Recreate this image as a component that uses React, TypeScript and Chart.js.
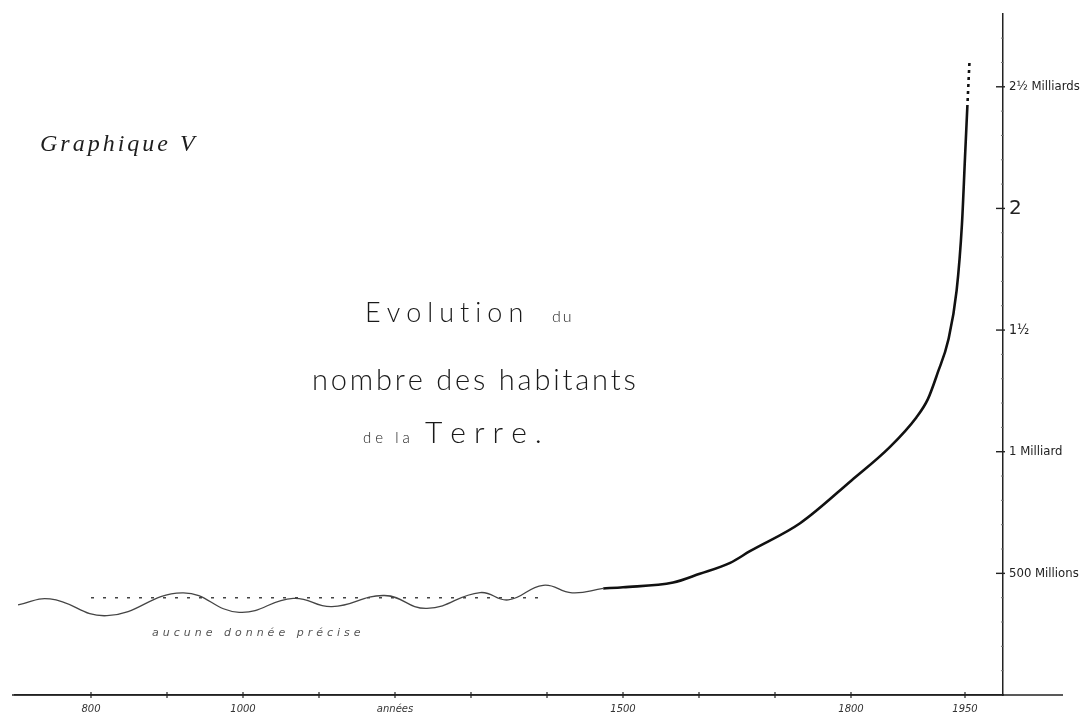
import { useEffect, useRef } from 'react';
import { Chart, registerables } from 'chart.js';

Chart.register(...registerables);

// ---- data (years, billions of inhabitants) ----
const waveYears = [704, 746, 821, 920, 995, 1066, 1117, 1186, 1242, 1312, 1349, 1395, 1433, 1474];
const waveValues = [0.37, 0.395, 0.326, 0.42, 0.34, 0.397, 0.363, 0.409, 0.356, 0.421, 0.391, 0.451, 0.42, 0.438];

const trendYears = [800, 1400];
const trendValues = [0.4, 0.4];

const growthYears = [1474, 1500, 1566, 1601, 1641, 1667, 1733, 1801, 1851, 1886, 1901, 1914, 1928, 1939, 1946, 1950, 1953];
const growthValues = [0.438, 0.443, 0.462, 0.498, 0.543, 0.591, 0.706, 0.883, 1.019, 1.141, 1.215, 1.324, 1.459, 1.663, 1.936, 2.209, 2.413];

const projectionYears = [1953, 1956];
const projectionValues = [2.413, 2.61];

const xTickValues = [800, 900, 1000, 1100, 1200, 1300, 1400, 1500, 1600, 1700, 1800, 1950];
const xTickLabelValues = [800, 1000, 1200, 1500, 1800, 1950];
const xTickLabels = ['800', '1000', 'années', '1500', '1800', '1950'];

const yTickValues = [0.5, 1, 1.5, 2, 2.5];
const yTickLabels = ['500 Millions', '1 Milliard', '1½', '2', '2½ Milliards'];
const yMinorCount = 27;

const chartTitle = ['Evolution', 'du', 'nombre des habitants', 'de la', 'Terre.'];
const graphLabel = 'Graphique V';
const noDataLabel = 'aucune donnée précise';

const toPoints = (xs: number[], ys: number[]) => xs.map((x, i) => ({ x, y: ys[i] }));

function drawSpaced(ctx: CanvasRenderingContext2D, text: string, x: number, y: number, spacing: number) {
  let cx = x;
  for (const ch of text) {
    ctx.fillText(ch, cx, y);
    cx += ctx.measureText(ch).width + spacing;
  }
}

const decorations = {
  id: 'decorations',
  afterDraw(chart: any) {
    const { ctx, chartArea, scales } = chart;
    const xs = scales.x;
    const ys = scales.y;
    ctx.save();
    ctx.strokeStyle = '#222';
    ctx.lineWidth = 1.5;
    // x axis continues past the vertical axis
    ctx.beginPath();
    ctx.moveTo(chartArea.left - 3, chartArea.bottom);
    ctx.lineTo(chartArea.right + 60, chartArea.bottom);
    ctx.stroke();
    // x tick marks crossing the axis
    ctx.lineWidth = 1.2;
    xs.ticks.forEach((t: any) => {
      const px = xs.getPixelForValue(t.value);
      ctx.beginPath();
      ctx.moveTo(px, chartArea.bottom - 3);
      ctx.lineTo(px, chartArea.bottom + 3);
      ctx.stroke();
    });
    // y tick marks
    ys.ticks.forEach((t: any) => {
      const py = ys.getPixelForValue(t.value);
      const major = yTickValues.some((v) => Math.abs(v - t.value) < 1e-6);
      ctx.lineWidth = major ? 1.4 : 1;
      ctx.strokeStyle = major ? '#222' : '#777';
      ctx.beginPath();
      ctx.moveTo(chartArea.right - (major ? 7 : 2), py);
      ctx.lineTo(chartArea.right + (major ? 2 : 1), py);
      ctx.stroke();
    });

    // texts
    ctx.fillStyle = '#1e1e1e';
    ctx.textBaseline = 'alphabetic';
    ctx.textAlign = 'left';
    ctx.font = 'italic 24px "Liberation Serif", "DejaVu Serif", serif';
    drawSpaced(ctx, graphLabel, 40, 151, 3);

    ctx.fillStyle = '#1a1a1a';
    ctx.font = '300 27px Lato, "Open Sans", sans-serif';
    drawSpaced(ctx, chartTitle[0], 365, 322, 6);
    ctx.font = '300 16px Lato, "Open Sans", sans-serif';
    drawSpaced(ctx, chartTitle[1], 552, 322, 2);
    ctx.font = '300 29px Lato, "Open Sans", sans-serif';
    drawSpaced(ctx, chartTitle[2], 312, 390, 2.8);
    ctx.font = '300 15px Lato, "Open Sans", sans-serif';
    drawSpaced(ctx, chartTitle[3], 363, 443, 4);
    ctx.font = '300 30px Lato, "Open Sans", sans-serif';
    drawSpaced(ctx, chartTitle[4], 425, 443, 8);

    ctx.fillStyle = '#555';
    ctx.font = 'italic 11px "DejaVu Sans", sans-serif';
    drawSpaced(ctx, noDataLabel, 152, 636, 4);
    ctx.restore();
  },
};

export default function App() {
  const canvasRef = useRef<HTMLCanvasElement | null>(null);

  useEffect(() => {
    if (!canvasRef.current) return;
    const chart = new Chart(canvasRef.current, {
      type: 'line',
      data: {
        datasets: [
          {
            data: toPoints(waveYears, waveValues),
            borderColor: '#454545',
            borderWidth: 1.3,
            tension: 0.45,
            pointRadius: 0,
          },
          {
            data: toPoints(trendYears, trendValues),
            borderColor: '#444',
            borderWidth: 1.6,
            borderDash: [3, 9],
            pointRadius: 0,
          },
          {
            data: toPoints(growthYears, growthValues),
            borderColor: '#111',
            borderWidth: 2.6,
            cubicInterpolationMode: 'monotone',
            pointRadius: 0,
          },
          {
            data: toPoints(projectionYears, projectionValues),
            borderColor: '#111',
            borderWidth: 2.6,
            borderDash: [3, 4],
            pointRadius: 0,
          },
        ],
      },
      options: {
        animation: false,
        responsive: false,
        layout: { padding: { left: 15, top: 8, right: 0, bottom: 0 } },
        plugins: { legend: { display: false }, tooltip: { enabled: false } },
        scales: {
          x: {
            type: 'linear',
            min: 700,
            max: 2000,
            afterBuildTicks: (s: any) => {
              s.ticks = xTickValues.map((v) => ({ value: v }));
            },
            afterFit: (s: any) => {
              s.height = 22;
            },
            grid: { drawOnChartArea: false, drawTicks: false },
            border: { display: true, color: '#222', width: 1.5 },
            ticks: {
              autoSkip: false,
              maxRotation: 0,
              padding: 8,
              color: '#333',
              font: { family: '"DejaVu Sans", sans-serif', size: 10, style: 'italic' },
              callback: (v: any) => {
                const i = xTickLabelValues.indexOf(Number(v));
                return i >= 0 ? xTickLabels[i] : '';
              },
            },
          },
          y: {
            type: 'linear',
            position: 'right',
            min: 0,
            max: 2.8,
            afterBuildTicks: (s: any) => {
              const arr = [];
              for (let i = 1; i <= yMinorCount; i++) arr.push({ value: i / 10 });
              s.ticks = arr;
            },
            afterFit: (s: any) => {
              s.width = 85;
            },
            grid: { drawOnChartArea: false, drawTicks: false },
            border: { display: true, color: '#222', width: 1.5 },
            ticks: {
              autoSkip: false,
              padding: 6,
              color: '#222',
              font: (c: any) => {
                const v = c.tick ? c.tick.value : 0;
                if (Math.abs(v - 2) < 1e-6) return { family: '"DejaVu Sans", sans-serif', size: 20 };
                if (Math.abs(v - 1.5) < 1e-6) return { family: '"DejaVu Sans Condensed", "DejaVu Sans", sans-serif', size: 14 };
                return { family: '"DejaVu Sans Condensed", "DejaVu Sans", sans-serif', size: 13 };
              },
              callback: (v: any) => {
                const i = yTickValues.findIndex((t) => Math.abs(t - Number(v)) < 1e-6);
                return i >= 0 ? yTickLabels[i] : '';
              },
            },
          },
        },
      } as any,
      plugins: [decorations],
    });
    return () => chart.destroy();
  }, []);

  return (
    <div style={{ position: 'absolute', left: 0, top: 0, width: 1088, height: 717, background: '#fff' }}>
      <canvas ref={canvasRef} width={1088} height={717} style={{ display: 'block' }} />
    </div>
  );
}
